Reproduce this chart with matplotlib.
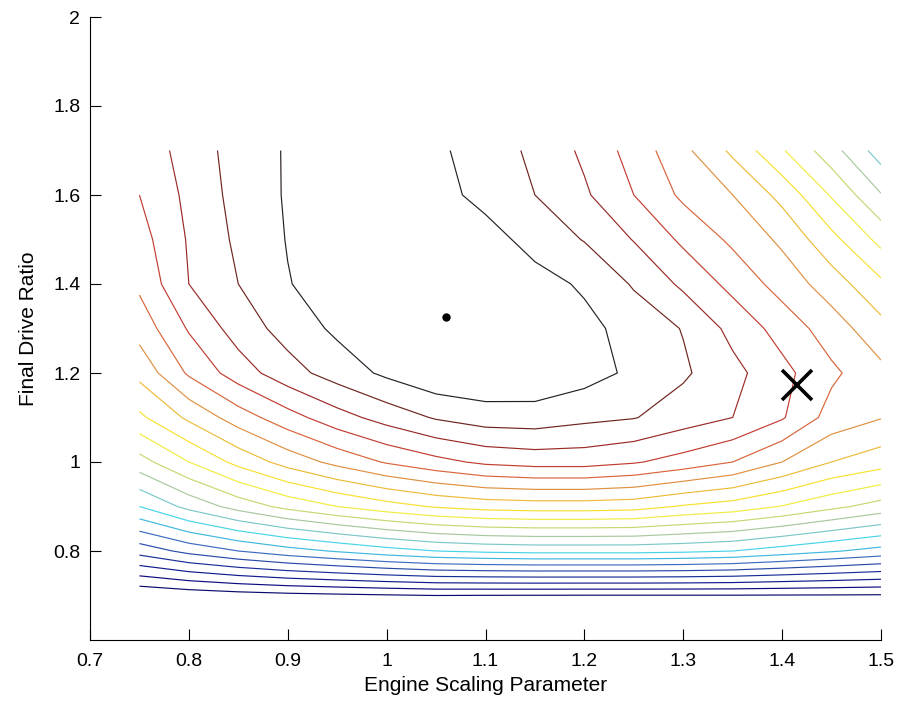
import numpy as np
import matplotlib
matplotlib.use('Agg')
import matplotlib.pyplot as plt

plt.rcParams['font.family'] = ['Liberation Sans', 'DejaVu Sans']

# grid of the sweep
engine_scale = [0.75, 0.80, 0.85, 0.90, 0.95, 1.00, 1.05, 1.10,
                1.15, 1.20, 1.25, 1.30, 1.35, 1.40, 1.45, 1.50]
final_drive = [0.7, 0.8, 0.9, 1.0, 1.1, 1.2, 1.3, 1.4, 1.5, 1.6, 1.7]

# objective value (contour level index), one row per final drive ratio
z_07 = [0.1, 0.35, 0.55, 0.7, 0.8, 0.9, 1.0, 0.97, 0.96, 0.95, 0.95, 0.95, 0.95, 0.93, 0.92, 0.9]
z_08 = [4.4, 5.3, 6.0, 6.6, 7.1, 7.6, 8.0, 8.2, 8.3, 8.3, 8.3, 8.2, 8.0, 7.55, 7.1, 6.65]
z_09 = [8.0, 9.3, 10.4, 11.3, 12.0, 12.6, 13.1, 13.4, 13.5, 13.5, 13.4, 12.9, 12.55, 11.95, 11.25, 10.6]
z_10 = [10.6, 12.0, 13.3, 14.4, 15.3, 16.1, 16.7, 17.2, 17.4, 17.4, 17.1, 16.6, 16.0, 15.0, 14.0, 13.45]
z_11 = [12.8, 14.2, 15.5, 16.6, 17.6, 18.4, 19.1, 19.5, 19.55, 19.25, 19.05, 18.5, 18.0, 17.1, 15.6, 15.05]
z_12 = [14.3, 16.15, 17.5, 18.6, 19.45, 20.2, 20.8, 20.9, 20.8, 20.4, 19.8, 19.15, 18.3, 17.3, 16.2, 15.27]
z_13 = [15.4, 17.1, 18.45, 19.4, 20.2, 20.8, 21.2, 21.1, 20.8, 20.3, 19.6, 18.95, 17.7, 16.6, 15.5, 14.34]
z_14 = [16.2, 18.0, 19.0, 19.95, 20.5, 20.9, 21.1, 20.9, 20.4, 19.85, 18.9, 17.8, 16.7, 15.6, 14.5, 13.2]
z_15 = [16.6, 18.1, 19.2, 20.05, 20.45, 20.7, 20.9, 20.45, 19.6, 18.95, 17.95, 16.8, 15.8, 14.8, 13.3, 11.7]
z_16 = [17.0, 18.25, 19.35, 20.1, 20.4, 20.45, 20.4, 19.65, 19.0, 18.15, 17.0, 15.8, 15.0, 13.7, 11.9, 10.06]
z_17 = [17.3, 18.45, 19.4, 20.1, 20.4, 20.4, 20.2, 19.5, 18.8, 17.8, 16.6, 15.25, 13.8, 12.1, 10.4, 8.5]

levels = np.arange(1, 21)

optimum = (1.06, 1.325)     # dot
selected = (1.415, 1.173)   # cross

xticks = [0.7, 0.8, 0.9, 1.0, 1.1, 1.2, 1.3, 1.4, 1.5]
xtick_labels = ['0.7', '0.8', '0.9', '1', '1.1', '1.2', '1.3', '1.4', '1.5']
yticks = [0.8, 1.0, 1.2, 1.4, 1.6, 1.8, 2.0]
ytick_labels = ['0.8', '1', '1.2', '1.4', '1.6', '1.8', '2']

Z = np.array([z_07, z_08, z_09, z_10, z_11, z_12, z_13, z_14, z_15, z_16, z_17])
X, Y = np.meshgrid(engine_scale, final_drive)

# washed-out jet, lowest level first, innermost level almost black
line_colors = [
    '#0a0a6e', '#0c0c82', '#101a8c', '#1a2e98', '#2a4aa8', '#3a6cc0',
    '#40b8e0', '#48d4e8', '#7cc8c8', '#a8c8a0', '#c8d870', '#f0ec40',
    '#f8e030', '#ecbc38', '#e09040', '#d8643a', '#c23c30', '#9a2a26',
    '#6e2420', '#282024',
]

fig = plt.figure(figsize=(9.03, 7.06), dpi=100)
ax = fig.add_axes([90 / 903, 66 / 706, 791 / 903, 623 / 706])

ax.contour(X, Y, Z, levels=levels, colors=line_colors, linewidths=0.85)
ax.plot(*optimum, 'o', color='k', ms=5)
ax.plot(*selected, 'x', color='k', ms=21, mew=2.6)

ax.set_xlim(0.7, 1.5)
ax.set_ylim(0.6, 2.0)
ax.set_xticks(xticks)
ax.set_xticklabels(xtick_labels)
ax.set_yticks(yticks)
ax.set_yticklabels(ytick_labels)
ax.tick_params(direction='in', length=8, width=0.8, labelsize=14, pad=7)
ax.tick_params(axis='x', pad=9)
ax.spines['top'].set_visible(False)
ax.spines['right'].set_visible(False)

ax.set_xlabel('Engine Scaling Parameter', fontsize=15, labelpad=5)
ax.set_ylabel('Final Drive Ratio', fontsize=15, labelpad=11)

fig.savefig('out.png', dpi=100)
